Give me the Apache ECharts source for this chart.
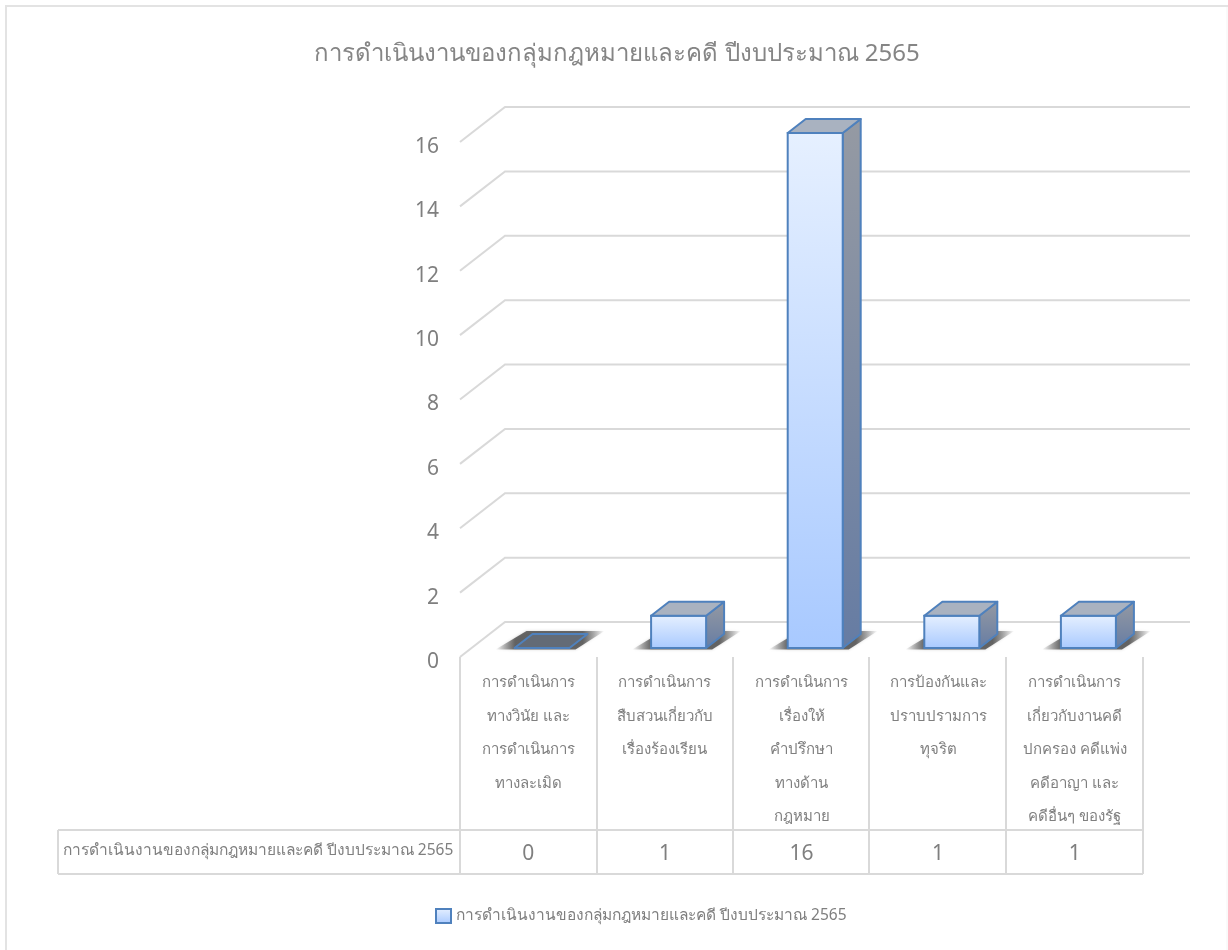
<!DOCTYPE html>
<html><head><meta charset="utf-8">
<style>html,body{margin:0;padding:0;background:#fff}#c{width:1228px;height:950px}</style>
<script src="https://cdn.jsdelivr.net/npm/echarts@6/dist/echarts.min.js"></script>
</head><body><div id="c"></div>
<script>
const seriesName = 'การดำเนินงานของกลุ่มกฎหมายและคดี ปีงบประมาณ 2565';
const categories = [
  'การดำเนินการ\nทางวินัย และ\nการดำเนินการ\nทางละเมิด',
  'การดำเนินการ\nสืบสวนเกี่ยวกับ\nเรื่องร้องเรียน',
  'การดำเนินการ\nเรื่องให้\nคำปรึกษา\nทางด้าน\nกฎหมาย',
  'การป้องกันและ\nปราบปรามการ\nทุจริต',
  'การดำเนินการ\nเกี่ยวกับงานคดี\nปกครอง คดีแพ่ง\nคดีอาญา และ\nคดีอื่นๆ ของรัฐ'
];
const values = [0, 1, 16, 1, 1];
const gridTicks = [0, 2, 4, 6, 8, 10, 12, 14, 16];

const FONT = '"Noto Sans","Open Sans",sans-serif';
const GREY = '#7f7f7f', LINE = '#d9d9d9', EDGE = '#4f81bd';
const chart = echarts.init(document.getElementById('c'));
const DX = 45, DY = 35, WALLX = 1190;

function wallItem(params, api) {
  const p = api.coord([0, api.value(0)]);
  const x0 = api.coord([0, 0])[0] - api.size([1, 0])[0] / 2;
  const y = p[1];
  return { type: 'polyline', silent: true,
    shape: { points: [[x0, y], [x0 + DX, y - DY], [WALLX, y - DY]] },
    style: { stroke: LINE, lineWidth: 2, fill: null } };
}
function barItem(params, api) {
  const i = api.value(0), v = api.value(1);
  const band = api.size([1, 0])[0];
  const base = api.coord([i, 0]), top = api.coord([i, v]);
  const slot = base[0] - band / 2;
  const x = slot + 54.5, w = 55, oy = -9;
  const dx = 18, dy = 14;
  const yb = base[1] + oy, yt = top[1] + oy;
  const children = [];
  children.push({ type: 'polygon', silent: true,
    shape: { points: [[x - 19, yb + 1.5], [x + w + 6, yb + 1.5], [x + w + 35, yb - 17], [x + 12, yb - 17]] },
    style: {
      fill: { type: 'linear', x: 0, y: 0, x2: 1, y2: 0, colorStops: [
        { offset: 0, color: 'rgba(70,70,70,0)' }, { offset: 0.18, color: 'rgba(70,70,70,0.8)' },
        { offset: 0.8, color: 'rgba(70,70,70,0.8)' }, { offset: 1, color: 'rgba(70,70,70,0)' }] },
      shadowBlur: 3, shadowColor: 'rgba(90,90,90,0.35)' } });
  if (v > 0) {
    children.push({ type: 'polygon', silent: true,
      shape: { points: [[x + w, yb], [x + w + dx, yb - dy], [x + w + dx, yt - dy], [x + w, yt]] },
      style: { stroke: EDGE, lineWidth: 2, lineJoin: 'round',
        fill: { type: 'linear', x: 0, y: 0, x2: 0, y2: 1, colorStops: [{ offset: 0, color: '#959aa3' }, { offset: 1, color: '#667ca3' }] } } });
    children.push({ type: 'rect', silent: true,
      shape: { x: x, y: yt, width: w, height: yb - yt },
      style: { stroke: EDGE, lineWidth: 2,
        fill: { type: 'linear', x: 0, y: 0, x2: 0, y2: 1, colorStops: [{ offset: 0, color: '#e6f0ff' }, { offset: 1, color: '#a8c9ff' }] } } });
  }
  children.push({ type: 'polygon', silent: true,
    shape: { points: [[x, yt], [x + dx, yt - dy], [x + w + dx, yt - dy], [x + w, yt]] },
    style: { stroke: EDGE, lineWidth: 2, lineJoin: 'round', fill: v > 0 ? '#a9b2c0' : '#636b76' } });
  return { type: 'group', children };
}

chart.setOption({
  animation: false,
  backgroundColor: '#fff',
  title: { text: seriesName, left: 612, top: 37, textAlign: 'center',
    textStyle: { fontFamily: FONT, fontSize: 24, fontWeight: 'normal', color: '#858585' } },
  legend: { left: 430, top: 903, itemWidth: 15, itemHeight: 14, itemGap: 5,
    textStyle: { fontFamily: FONT, fontSize: 15.5, color: GREY },
    data: [{ name: seriesName, icon: 'rect',
      itemStyle: { borderColor: EDGE, borderWidth: 2,
        color: { type: 'linear', x: 0, y: 0, x2: 0, y2: 1, colorStops: [{ offset: 0, color: '#e6f0ff' }, { offset: 1, color: '#a8c9ff' }] } } }] },
  grid: { left: 460, right: 85, top: 142, bottom: 293, containLabel: false },
  xAxis: [
    { type: 'category', data: categories, position: 'bottom',
      axisLine: { show: false }, axisTick: { show: false },
      splitLine: { show: false },
      axisLabel: { interval: 0, margin: 9, color: GREY, fontFamily: FONT, fontSize: 15, lineHeight: 33.5, verticalAlign: 'top', align: 'center' } },
    { type: 'category', data: values.map(String), position: 'bottom',
      axisLine: { show: false }, axisTick: { show: false },
      axisLabel: { interval: 0, margin: 187, color: GREY, fontFamily: FONT, fontSize: 21 } }
  ],
  yAxis: { type: 'value', min: 0, max: 16, interval: 2,
    axisLine: { show: false }, axisTick: { show: false }, splitLine: { show: false },
    axisLabel: { margin: 21, color: GREY, fontFamily: FONT, fontSize: 21, verticalAlign: 'top', lineHeight: 10 } },
  graphic: [
    { type: 'polyline', shape: { points: [[1227, 6], [1227, 950]] }, style: { stroke: '#f4f4f4', lineWidth: 1, fill: null } },
    { type: 'polyline', shape: { points: [[6, 950], [6, 6], [1228, 6]] }, style: { stroke: '#e3e3e3', lineWidth: 2, fill: null } },
    { type: 'polyline', shape: { points: [[58, 874], [1143, 874]] }, style: { stroke: LINE, lineWidth: 2, fill: null } },
    { type: 'polyline', shape: { points: [[58, 830], [1143, 830]] }, style: { stroke: LINE, lineWidth: 2, fill: null } },
    { type: 'polyline', shape: { points: [[58, 830], [58, 874]] }, style: { stroke: LINE, lineWidth: 2, fill: null } },
    { type: 'group', children: [460, 597, 733, 869, 1006, 1143].map(x => ({ type: 'polyline', shape: { points: [[x, 657], [x, 874]] }, style: { stroke: LINE, lineWidth: 2, fill: null } })) },
    { type: 'text', style: { x: 258, y: 851, text: seriesName, align: 'center', verticalAlign: 'middle', fontFamily: FONT, fontSize: 15.5, fill: GREY } }
  ],
  series: [
    { type: 'custom', name: 'wall', xAxisIndex: 0, yAxisIndex: 0, z: 1, silent: true,
      renderItem: wallItem, encode: { y: 0 }, data: gridTicks.map(t => [t]) },
    { type: 'custom', name: seriesName, xAxisIndex: 0, yAxisIndex: 0, z: 2, silent: true,
      renderItem: barItem, encode: { x: 0, y: 1 }, data: values.map((v, i) => [i, v]) }
  ]
});
</script></body></html>
